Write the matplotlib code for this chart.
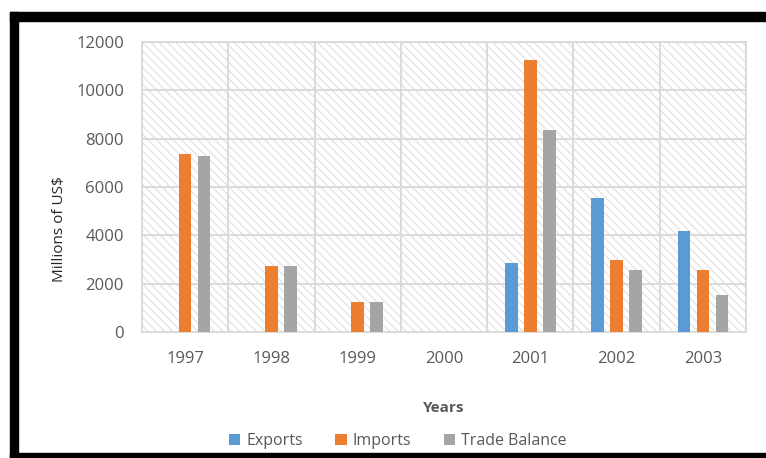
import matplotlib
matplotlib.use("Agg")
import matplotlib.pyplot as plt
import numpy as np
from matplotlib.patches import Rectangle

years = ["1997", "1998", "1999", "2000", "2001", "2002", "2003"]
exports = [0, 0, 0, 0, 2870, 5550, 4180]
imports = [7350, 2750, 1250, 0, 11250, 2980, 2580]
trade_balance = [7300, 2750, 1250, 0, 8350, 2550, 1550]

plt.rcParams['font.family'] = ['Open Sans', 'DejaVu Sans']
plt.rcParams['hatch.color'] = '#dcdcdc'
plt.rcParams['hatch.linewidth'] = 0.7

fig = plt.figure(figsize=(7.66, 4.58), dpi=100)
ax = fig.add_axes([142 / 766, 1 - 332 / 458, 604 / 766, 290 / 458])

# hatched plot area background
ax.add_patch(Rectangle((0, 0), 1, 1, transform=ax.transAxes, facecolor='white',
                       edgecolor='#dcdcdc', hatch='\\\\\\\\', linewidth=0, zorder=0))

x = np.arange(len(years))
w = 0.145
off = 0.22
ax.bar(x - off, exports, w, color='#5b9bd5', label='Exports', zorder=3)
ax.bar(x, imports, w, color='#ed7d31', label='Imports', zorder=3)
ax.bar(x + off, trade_balance, w, color='#a5a5a5', label='Trade Balance', zorder=3)

ax.set_xlim(-0.5, len(years) - 0.5)
ax.set_ylim(0, 12000)
ax.set_yticks(range(0, 12001, 2000))
ax.set_xticks(x)
ax.set_xticklabels(years)

# grid lines: horizontal at ticks, vertical at category boundaries
for yv in range(2000, 12001, 2000):
    ax.axhline(yv, color='#d9d9d9', lw=1.3, zorder=1)
for xv in np.arange(0.5, len(years) - 0.5):
    ax.axvline(xv, color='#d9d9d9', lw=1.3, zorder=1)

for s in ax.spines.values():
    s.set_color('#d9d9d9')
    s.set_linewidth(1.3)

ax.tick_params(length=0, labelsize=12, colors='#595959')
ax.tick_params(axis='y', pad=13)
ax.tick_params(axis='x', pad=14)
ax.set_ylabel('Millions of US$', fontsize=11, color='#262626')
ax.yaxis.set_label_coords(-0.124, 0.355)
ax.set_xlabel('Years', fontsize=11, fontweight='bold', color='#595959', labelpad=24)

fig.legend(loc='center', bbox_to_anchor=(398 / 766, 1 - 441 / 458), ncol=3, frameon=False,
           fontsize=11.5, handlelength=0.7, handleheight=0.7, columnspacing=2.0,
           handletextpad=0.4, labelcolor='#595959')

# black frame around the chart
frame = dict(color='black', transform=None, zorder=10)
fig.patches.append(Rectangle((10, 458 - 21), 756, 9, **frame))
fig.patches.append(Rectangle((10, 0), 8, 458 - 12, **frame))
fig.patches.append(Rectangle((10, 0), 756, 5, **frame))

fig.savefig('out.png', dpi=100)
